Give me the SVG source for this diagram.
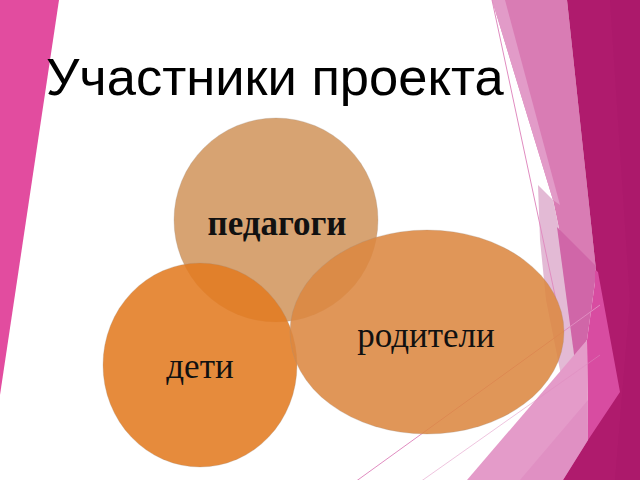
<svg xmlns="http://www.w3.org/2000/svg" width="640" height="480" viewBox="0 0 640 480">
<style>
.title{font-family:"Liberation Sans",Arial,sans-serif;font-size:52.5px;fill:#000}
.lbl{font-family:"Liberation Serif","Times New Roman",serif;font-size:35px;fill:#111;text-anchor:middle}
.bold{font-weight:bold}
.bub{fill-opacity:0.88;stroke:#9a8a80;stroke-opacity:0.25;stroke-width:1}
.thin{stroke:#e08cc0;stroke-width:1;fill:none}
</style>
<rect width="640" height="480" fill="#ffffff"/>
<g id="decor-left">
<polygon points="0,0 59,0 0,395" fill="#E24C9F"/>
</g>
<g id="decor-right">
<polygon points="492,0 567,0 596,270 562,243 553,200" fill="#D97CB4"/>
<polygon points="492,0 505,0 560,205 553,200" fill="#E29BC8"/>
<polygon points="567,0 640,0 640,480 560,480 617,393 596,270" fill="#AF1B6D"/>
<polygon points="610,0 640,0 640,480 615,480 630,300" fill="#A9186A" opacity="0.5"/>
<polygon points="538,185 553,200 562,243 575,362 562,380 546,300 540,240" fill="#E3BAD5"/>
<polygon points="557,227 596,266 595,282 587,340 575,362" fill="#D066A8"/>
<polygon points="595,270 598,272 620,392 588,440 587,340 595,282" fill="#D84CA1"/>
<polygon points="467,480 587,340 588,440 563,480" fill="#E49BC9"/>
<polygon points="520,480 588,400 588,440 563,480" fill="#DD88BF" opacity="0.6"/>
<line class="thin" x1="492" y1="0" x2="556" y2="300"/>
<line class="thin" x1="355" y1="482" x2="600" y2="305"/>
<line class="thin" x1="420" y1="482" x2="600" y2="355" stroke-opacity="0.5"/>
</g>
<text class="title" x="46" y="95">Участники проекта</text>
<g id="node-pedagogi">
<circle class="bub" cx="276" cy="220" r="102" fill="#D1965F"/>
</g>
<g id="node-deti">
<ellipse class="bub" cx="200" cy="365" rx="97" ry="102" fill="#E37B21"/>
</g>
<g id="node-roditeli">
<ellipse class="bub" cx="427" cy="332" rx="137" ry="102" fill="#DC8741"/>
</g>
<g id="labels">
<text class="lbl bold" x="277" y="235">педагоги</text>
<text class="lbl" x="426" y="347">родители</text>
<text class="lbl" x="200" y="378">дети</text>
</g>
<g id="connectors"></g>
</svg>
